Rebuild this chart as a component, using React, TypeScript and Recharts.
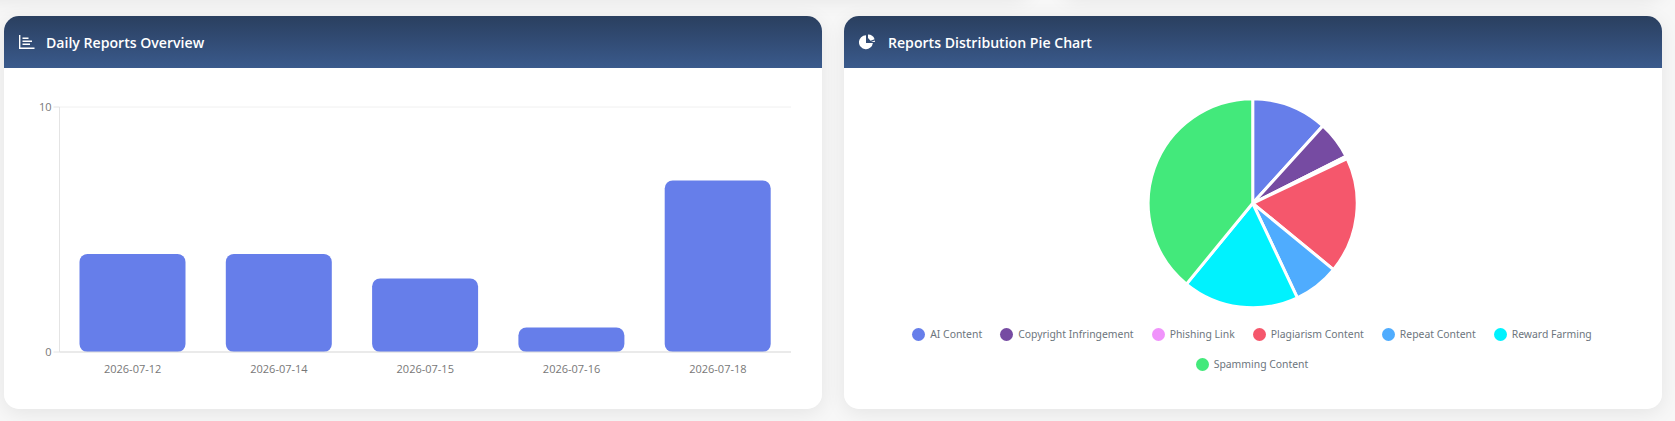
import React from "react";
import { BarChart, Bar, XAxis, YAxis, CartesianGrid, PieChart, Pie, Cell, Legend } from "recharts";

const dates = ["2026-07-12", "2026-07-14", "2026-07-15", "2026-07-16", "2026-07-18"];
const counts = [4, 4, 3, 1, 7];
const categories = ["AI Content", "Copyright Infringement", "Phishing Link", "Plagiarism Content", "Repeat Content", "Reward Farming", "Spamming Content"];
const shares = [6, 3, 0.2, 9.2, 3.6, 9.2, 20];
const colors = ["#667eea", "#764ba2", "#f093fb", "#f5576c", "#4facfe", "#00f2fe", "#43e97b"];
const yTicks = [0, 10];

const barData = dates.map((date, i) => ({ date, count: counts[i] }));
const pieData = categories.map((name, i) => ({ name, value: shares[i] }));

const FONT = "'Open Sans', 'Noto Sans', sans-serif";

const cardStyle: React.CSSProperties = {
  position: "absolute",
  top: 16,
  width: 818,
  height: 393,
  background: "#fff",
  borderRadius: 15,
  overflow: "hidden",
};
const shadowStyle: React.CSSProperties = {
  position: "absolute",
  top: 16,
  width: 818,
  height: 393,
  borderRadius: 15,
  boxShadow: "0 4px 20px rgba(0,0,0,0.08)",
};
const headerStyle: React.CSSProperties = {
  height: 52,
  background: "linear-gradient(180deg, #2a3f5f 0%, #3a5a8c 100%)",
  display: "flex",
  alignItems: "center",
  color: "#fff",
  fontFamily: FONT,
  fontWeight: 600,
  fontSize: 14.1,
  position: "relative",
};

function BarIcon() {
  return (
    <svg width="16" height="14" viewBox="0 0 16 14" style={{ position: "absolute", left: 15, top: 19 }}>
      <path d="M0.7 0V13.2H15.5" fill="none" stroke="#fff" strokeWidth="1.4" />
      <path d="M3.5 3.2H9.5M3.5 6.2H13M3.5 9.2H11" fill="none" stroke="#fff" strokeWidth="1.4" />
    </svg>
  );
}

function PieIcon() {
  return (
    <svg width="16" height="16" viewBox="0 0 16 16" style={{ position: "absolute", left: 15, top: 18 }}>
      <path d="M7 1.2A7 7 0 1 0 13.9 9H7Z" fill="#fff" />
      <path d="M9 0.6A7 7 0 0 1 15.6 5.2L11.5 6.8L9 4Z" fill="#fff" />
      <path d="M12 8H15.9A7 7 0 0 0 15.8 6.6Z" fill="#fff" />
    </svg>
  );
}

function LegendContent(props: any) {
  const items = props.payload || [];
  return (
    <div style={{ display: "flex", flexWrap: "wrap", justifyContent: "center", rowGap: 10, columnGap: 18, fontFamily: "'Noto Sans', sans-serif", fontSize: 10.4, color: "#6c757d" }}>
      {items.map((it: any) => (
        <span key={it.value} style={{ display: "inline-flex", alignItems: "center", height: 20 }}>
          <span style={{ width: 13, height: 13, borderRadius: "50%", background: it.color, marginRight: 5, display: "inline-block" }} />
          {it.value}
        </span>
      ))}
    </div>
  );
}

export default function App() {
  return (
    <div style={{ position: "absolute", left: 0, top: 0, width: 1675, height: 421, background: "#f7f7f7", overflow: "hidden" }}>
      <div style={{ ...shadowStyle, left: -20, top: -397, width: 1050 }} />
      <div style={{ ...shadowStyle, left: 1062, top: -397, width: 600 }} />
      <div style={{ ...shadowStyle, left: 4 }} />
      <div style={{ ...shadowStyle, left: 844 }} />

      <div style={{ ...cardStyle, left: 4 }}>
        <div style={headerStyle}>
          <BarIcon />
          <span style={{ marginLeft: 42 }}>Daily Reports Overview</span>
        </div>
        <div style={{ position: "absolute", left: 0, top: 52 }}>
          <BarChart width={818} height={341} data={barData} margin={{ top: 39, right: 31, bottom: 27, left: 0 }}>
            <CartesianGrid vertical={false} stroke="#f0f0f0" />
            <XAxis dataKey="date" tickLine={false} stroke="#dddddd" tick={{ fill: "#777", fontSize: 11, fontFamily: FONT }} tickMargin={7} interval={0} />
            <YAxis domain={[0, 10]} ticks={yTicks} width={55.5} stroke="#e4e4e4" tick={{ fill: "#777", fontSize: 11, fontFamily: FONT }} />
            <Bar dataKey="count" fill="#667eea" barSize={106} radius={[8, 8, 8, 8]} isAnimationActive={false} />
          </BarChart>
        </div>
      </div>

      <div style={{ ...cardStyle, left: 844 }}>
        <div style={headerStyle}>
          <PieIcon />
          <span style={{ marginLeft: 44 }}>Reports Distribution Pie Chart</span>
        </div>
        <div style={{ position: "absolute", left: 0, top: 52 }}>
          <PieChart width={818} height={341} margin={{ top: 0, right: 0, bottom: 0, left: 0 }}>
            <Pie
              data={pieData}
              dataKey="value"
              nameKey="name"
              cx={408.7}
              cy={135.3}
              outerRadius={104.5}
              startAngle={90}
              endAngle={-270}
              stroke="#fff"
              strokeWidth={3}
              isAnimationActive={false}
            >
              {pieData.map((d, i) => (
                <Cell key={d.name} fill={colors[i]} />
              ))}
            </Pie>
            <Legend content={<LegendContent />} verticalAlign="bottom" wrapperStyle={{ left: 48, width: 720, bottom: 35 }} />
          </PieChart>
        </div>
      </div>
    </div>
  );
}
